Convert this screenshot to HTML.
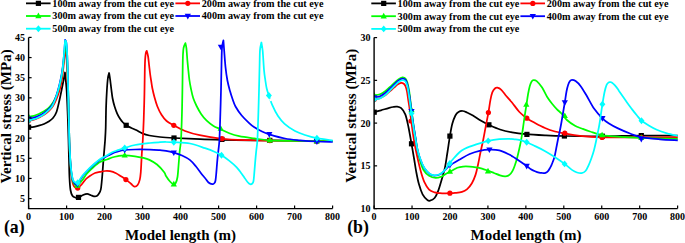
<!DOCTYPE html>
<html><head><meta charset="utf-8"><style>
html,body{margin:0;padding:0;background:#fff;}
body{width:685px;height:243px;overflow:hidden;}
svg{display:block;}
text{font-family:"Liberation Serif",serif;font-weight:bold;fill:#000;}
.tk{font-size:10px;}
.lg{font-size:10.2px;}
.at{font-size:15px;}
.pl{font-size:17.8px;}
</style></head><body>
<svg width="685" height="243" viewBox="0 0 685 243">
<defs><clipPath id="ca"><rect x="28.60" y="30" width="320" height="178.5"/></clipPath><clipPath id="cb"><rect x="374.10" y="30" width="320" height="178.5"/></clipPath></defs>
<g clip-path="url(#ca)">
<path d="M28.60 127.20 C29.50 127.13 32.30 127.05 34.00 126.80 C35.70 126.55 37.13 126.17 38.80 125.70 C40.47 125.23 42.35 124.70 44.00 124.00 C45.65 123.30 47.20 122.50 48.70 121.50 C50.20 120.50 51.70 119.58 53.00 118.00 C54.30 116.42 55.42 115.00 56.50 112.00 C57.58 109.00 58.58 104.00 59.50 100.00 C60.42 96.00 61.28 91.50 62.00 88.00 C62.72 84.50 63.30 81.58 63.80 79.00 C64.30 76.42 64.80 73.58 65.00 72.50 C65.27 75.42 66.15 82.92 66.60 90.00 C67.05 97.08 67.38 106.67 67.70 115.00 C68.02 123.33 68.28 132.50 68.50 140.00 C68.72 147.50 68.83 153.67 69.00 160.00 C69.17 166.33 69.25 173.00 69.50 178.00 C69.75 183.00 70.02 187.03 70.50 190.00 C70.98 192.97 71.57 194.53 72.40 195.80 C73.23 197.07 74.48 197.30 75.50 197.60 C76.52 197.90 77.33 197.98 78.50 197.60 C79.67 197.22 81.07 195.93 82.50 195.30 C83.93 194.67 85.68 193.80 87.10 193.80 C88.52 193.80 89.85 194.88 91.00 195.30 C92.15 195.72 93.03 196.18 94.00 196.30 C94.97 196.42 95.97 196.47 96.80 196.00 C97.63 195.53 98.33 194.60 99.00 193.50 C99.67 192.40 100.32 191.65 100.80 189.40 C101.28 187.15 101.58 183.23 101.90 180.00 C102.22 176.77 102.42 173.67 102.70 170.00 C102.98 166.33 103.30 161.77 103.60 158.00 C103.90 154.23 104.25 150.40 104.50 147.40 C104.75 144.40 104.90 143.23 105.10 140.00 C105.30 136.77 105.53 133.50 105.70 128.00 C105.87 122.50 105.90 113.33 106.10 107.00 C106.30 100.67 106.60 94.83 106.90 90.00 C107.20 85.17 107.53 80.83 107.90 78.00 C108.27 75.17 108.90 73.83 109.10 73.00 C109.28 74.17 109.83 77.33 110.20 80.00 C110.57 82.67 110.90 85.92 111.30 89.00 C111.70 92.08 112.05 95.58 112.60 98.50 C113.15 101.42 113.82 103.95 114.60 106.50 C115.38 109.05 116.33 111.67 117.30 113.80 C118.27 115.93 119.45 117.85 120.40 119.30 C121.35 120.75 122.03 121.50 123.00 122.50 C123.97 123.50 124.87 124.42 126.20 125.30 C127.53 126.18 129.35 127.02 131.00 127.80 C132.65 128.58 134.13 129.03 136.10 130.00 C138.07 130.97 140.58 132.68 142.80 133.60 C145.02 134.52 146.53 134.93 149.40 135.50 C152.27 136.07 155.90 136.58 160.00 137.00 C164.10 137.42 167.33 137.63 174.00 138.00 C180.67 138.37 192.02 138.90 200.00 139.20 C207.98 139.50 213.57 139.62 221.90 139.80 C230.23 139.98 242.02 140.20 250.00 140.30 C257.98 140.40 261.47 140.32 269.80 140.40 C278.13 140.48 289.50 140.70 300.00 140.80 C310.50 140.90 327.33 140.97 332.80 141.00" fill="none" stroke="#000000" stroke-width="1.75" stroke-linejoin="round"/>
<rect x="26.00" y="124.60" width="5.20" height="5.20" fill="#000000"/>
<rect x="75.90" y="194.80" width="5.20" height="5.20" fill="#000000"/>
<rect x="123.60" y="122.70" width="5.20" height="5.20" fill="#000000"/>
<rect x="171.40" y="135.40" width="5.20" height="5.20" fill="#000000"/>
<rect x="219.30" y="136.80" width="5.20" height="5.20" fill="#000000"/>
<rect x="267.20" y="137.80" width="5.20" height="5.20" fill="#000000"/>
<rect x="314.10" y="138.30" width="5.20" height="5.20" fill="#000000"/>
<path d="M28.60 120.60 C29.50 120.43 32.30 120.10 34.00 119.60 C35.70 119.10 37.13 118.40 38.80 117.60 C40.47 116.80 42.35 115.87 44.00 114.80 C45.65 113.73 47.20 112.67 48.70 111.20 C50.20 109.73 51.70 108.03 53.00 106.00 C54.30 103.97 55.35 101.83 56.50 99.00 C57.65 96.17 58.98 92.33 59.90 89.00 C60.82 85.67 61.33 83.33 62.00 79.00 C62.67 74.67 63.37 68.07 63.90 63.00 C64.43 57.93 64.98 51.00 65.20 48.60 C65.38 49.67 65.98 51.43 66.30 55.00 C66.62 58.57 66.87 65.00 67.10 70.00 C67.33 75.00 67.50 80.00 67.70 85.00 C67.90 90.00 68.12 93.83 68.30 100.00 C68.48 106.17 68.63 115.00 68.80 122.00 C68.97 129.00 69.10 136.00 69.30 142.00 C69.50 148.00 69.73 153.33 70.00 158.00 C70.27 162.67 70.58 166.50 70.90 170.00 C71.22 173.50 71.50 176.50 71.90 179.00 C72.30 181.50 72.75 183.57 73.30 185.00 C73.85 186.43 74.47 187.08 75.20 187.60 C75.93 188.12 76.57 188.70 77.70 188.10 C78.83 187.50 80.62 185.52 82.00 184.00 C83.38 182.48 84.70 180.33 86.00 179.00 C87.30 177.67 88.30 177.00 89.80 176.00 C91.30 175.00 93.30 173.68 95.00 173.00 C96.70 172.32 98.33 172.23 100.00 171.90 C101.67 171.57 103.33 171.12 105.00 171.00 C106.67 170.88 108.17 170.83 110.00 171.20 C111.83 171.57 114.17 172.35 116.00 173.20 C117.83 174.05 119.35 175.23 121.00 176.30 C122.65 177.37 124.23 178.35 125.90 179.60 C127.57 180.85 129.57 182.63 131.00 183.80 C132.43 184.97 133.40 186.40 134.50 186.60 C135.60 186.80 136.72 186.17 137.60 185.00 C138.48 183.83 139.27 181.77 139.80 179.60 C140.33 177.43 140.53 175.03 140.80 172.00 C141.07 168.97 141.20 164.95 141.40 161.40 C141.60 157.85 141.77 154.27 142.00 150.70 C142.23 147.13 142.52 145.12 142.80 140.00 C143.08 134.88 143.43 127.50 143.70 120.00 C143.97 112.50 144.22 103.33 144.40 95.00 C144.58 86.67 144.68 75.83 144.80 70.00 C144.92 64.17 144.93 62.80 145.10 60.00 C145.27 57.20 145.53 54.73 145.80 53.20 C146.07 51.67 146.55 51.20 146.70 50.80 C146.93 51.75 147.68 53.97 148.10 56.50 C148.52 59.03 148.85 63.00 149.20 66.00 C149.55 69.00 149.87 72.00 150.20 74.50 C150.53 77.00 150.83 78.67 151.20 81.00 C151.57 83.33 151.88 85.92 152.40 88.50 C152.92 91.08 153.48 93.55 154.30 96.50 C155.12 99.45 156.10 103.15 157.30 106.20 C158.50 109.25 159.95 112.33 161.50 114.80 C163.05 117.27 164.55 119.25 166.60 121.00 C168.65 122.75 170.73 123.63 173.80 125.30 C176.87 126.97 180.68 129.35 185.00 131.00 C189.32 132.65 193.55 133.90 199.70 135.20 C205.85 136.50 213.52 137.97 221.90 138.80 C230.28 139.63 242.02 139.90 250.00 140.20 C257.98 140.50 261.47 140.48 269.80 140.60 C278.13 140.72 289.50 140.83 300.00 140.90 C310.50 140.97 327.33 140.98 332.80 141.00" fill="none" stroke="#ff0000" stroke-width="1.75" stroke-linejoin="round"/>
<circle cx="28.60" cy="120.60" r="2.60" fill="#ff0000"/>
<circle cx="77.70" cy="188.10" r="2.60" fill="#ff0000"/>
<circle cx="125.90" cy="179.60" r="2.60" fill="#ff0000"/>
<circle cx="173.80" cy="125.30" r="2.60" fill="#ff0000"/>
<circle cx="221.90" cy="138.70" r="2.60" fill="#ff0000"/>
<circle cx="269.80" cy="140.60" r="2.60" fill="#ff0000"/>
<circle cx="316.70" cy="141.00" r="2.60" fill="#ff0000"/>
<path d="M28.60 116.70 C29.50 116.55 32.30 116.25 34.00 115.80 C35.70 115.35 37.13 114.75 38.80 114.00 C40.47 113.25 42.35 112.33 44.00 111.30 C45.65 110.27 47.20 109.27 48.70 107.80 C50.20 106.33 51.70 104.55 53.00 102.50 C54.30 100.45 55.37 98.42 56.50 95.50 C57.63 92.58 58.82 89.08 59.80 85.00 C60.78 80.92 61.68 75.67 62.40 71.00 C63.12 66.33 63.63 61.08 64.10 57.00 C64.57 52.92 65.02 48.25 65.20 46.50 C65.40 47.08 66.07 47.75 66.40 50.00 C66.73 52.25 66.97 55.33 67.20 60.00 C67.43 64.67 67.60 71.33 67.80 78.00 C68.00 84.67 68.22 92.67 68.40 100.00 C68.58 107.33 68.73 115.00 68.90 122.00 C69.07 129.00 69.20 136.00 69.40 142.00 C69.60 148.00 69.85 153.50 70.10 158.00 C70.35 162.50 70.60 165.83 70.90 169.00 C71.20 172.17 71.52 174.75 71.90 177.00 C72.28 179.25 72.65 181.17 73.20 182.50 C73.75 183.83 74.50 184.50 75.20 185.00 C75.90 185.50 76.27 186.25 77.40 185.50 C78.53 184.75 80.40 182.50 82.00 180.50 C83.60 178.50 85.17 175.67 87.00 173.50 C88.83 171.33 90.83 169.42 93.00 167.50 C95.17 165.58 97.67 163.33 100.00 162.00 C102.33 160.67 105.00 160.25 107.00 159.50 C109.00 158.75 110.17 158.07 112.00 157.50 C113.83 156.93 115.88 156.45 118.00 156.10 C120.12 155.75 121.87 155.37 124.70 155.40 C127.53 155.43 131.95 155.90 135.00 156.30 C138.05 156.70 140.60 157.20 143.00 157.80 C145.40 158.40 147.07 158.78 149.40 159.90 C151.73 161.02 154.53 162.45 157.00 164.50 C159.47 166.55 162.70 170.28 164.20 172.20 C165.70 174.12 165.03 174.45 166.00 176.00 C166.97 177.55 168.75 180.13 170.00 181.50 C171.25 182.87 172.55 183.95 173.50 184.20 C174.45 184.45 175.03 184.20 175.70 183.00 C176.37 181.80 177.02 180.05 177.50 177.00 C177.98 173.95 178.22 169.15 178.60 164.70 C178.98 160.25 179.40 154.42 179.80 150.30 C180.20 146.18 180.65 145.88 181.00 140.00 C181.35 134.12 181.67 123.33 181.90 115.00 C182.13 106.67 182.25 99.17 182.40 90.00 C182.55 80.83 182.65 66.67 182.80 60.00 C182.95 53.33 183.08 52.33 183.30 50.00 C183.52 47.67 183.75 47.15 184.10 46.00 C184.45 44.85 185.18 43.58 185.40 43.10 C185.57 43.95 186.07 45.28 186.40 48.20 C186.73 51.12 187.07 56.80 187.40 60.60 C187.73 64.40 188.07 67.77 188.40 71.00 C188.73 74.23 188.98 77.08 189.40 80.00 C189.82 82.92 190.27 85.48 190.90 88.50 C191.53 91.52 192.25 95.18 193.20 98.10 C194.15 101.02 195.28 103.37 196.60 106.00 C197.92 108.63 199.42 111.45 201.10 113.90 C202.78 116.35 204.63 118.68 206.70 120.70 C208.77 122.72 211.28 124.62 213.50 126.00 C215.72 127.38 217.37 127.78 220.00 129.00 C222.63 130.22 226.10 132.10 229.30 133.30 C232.50 134.50 235.08 135.35 239.20 136.20 C243.32 137.05 248.90 137.72 254.00 138.40 C259.10 139.08 262.13 139.87 269.80 140.30 C277.47 140.73 289.50 140.85 300.00 141.00 C310.50 141.15 327.33 141.17 332.80 141.20" fill="none" stroke="#00ff00" stroke-width="1.75" stroke-linejoin="round"/>
<path d="M28.60 113.32L31.72 118.91L25.48 118.91Z" fill="#00ff00"/>
<path d="M77.40 182.12L80.52 187.71L74.28 187.71Z" fill="#00ff00"/>
<path d="M124.70 152.02L127.82 157.61L121.58 157.61Z" fill="#00ff00"/>
<path d="M173.80 180.82L176.92 186.41L170.68 186.41Z" fill="#00ff00"/>
<path d="M220.70 125.22L223.82 130.81L217.58 130.81Z" fill="#00ff00"/>
<path d="M269.80 136.82L272.92 142.41L266.68 142.41Z" fill="#00ff00"/>
<path d="M316.70 137.72L319.82 143.31L313.58 143.31Z" fill="#00ff00"/>
<path d="M28.60 118.80 C29.50 118.62 32.30 118.20 34.00 117.70 C35.70 117.20 37.13 116.60 38.80 115.80 C40.47 115.00 42.35 114.00 44.00 112.90 C45.65 111.80 47.33 110.52 48.70 109.20 C50.07 107.88 51.10 106.78 52.20 105.00 C53.30 103.22 54.35 100.92 55.30 98.50 C56.25 96.08 57.05 93.50 57.90 90.50 C58.75 87.50 59.65 84.00 60.40 80.50 C61.15 77.00 61.78 73.92 62.40 69.50 C63.02 65.08 63.65 58.95 64.10 54.00 C64.55 49.05 64.93 42.17 65.10 39.80 C65.30 40.25 65.95 39.97 66.30 42.50 C66.65 45.03 66.95 49.58 67.20 55.00 C67.45 60.42 67.60 67.50 67.80 75.00 C68.00 82.50 68.22 92.17 68.40 100.00 C68.58 107.83 68.73 115.00 68.90 122.00 C69.07 129.00 69.20 136.17 69.40 142.00 C69.60 147.83 69.85 152.67 70.10 157.00 C70.35 161.33 70.60 164.83 70.90 168.00 C71.20 171.17 71.53 173.83 71.90 176.00 C72.27 178.17 72.57 179.72 73.10 181.00 C73.63 182.28 74.38 183.17 75.10 183.70 C75.82 184.23 76.25 185.32 77.40 184.20 C78.55 183.08 80.38 179.20 82.00 177.00 C83.62 174.80 85.27 172.92 87.10 171.00 C88.93 169.08 90.85 167.37 93.00 165.50 C95.15 163.63 98.00 161.18 100.00 159.80 C102.00 158.42 103.00 158.23 105.00 157.20 C107.00 156.17 109.95 154.52 112.00 153.60 C114.05 152.68 115.18 152.30 117.30 151.70 C119.42 151.10 121.75 150.37 124.70 150.00 C127.65 149.63 130.78 149.57 135.00 149.50 C139.22 149.43 145.83 149.48 150.00 149.60 C154.17 149.72 157.33 150.00 160.00 150.20 C162.67 150.40 163.70 150.40 166.00 150.80 C168.30 151.20 171.13 151.82 173.80 152.60 C176.47 153.38 179.33 154.28 182.00 155.50 C184.67 156.72 187.47 158.07 189.80 159.90 C192.13 161.73 193.93 164.03 196.00 166.50 C198.07 168.97 200.70 172.78 202.20 174.70 C203.70 176.62 203.95 176.70 205.00 178.00 C206.05 179.30 207.30 181.47 208.50 182.50 C209.70 183.53 211.20 184.12 212.20 184.20 C213.20 184.28 213.95 183.62 214.50 183.00 C215.05 182.38 215.20 182.18 215.50 180.50 C215.80 178.82 216.00 176.22 216.30 172.90 C216.60 169.58 216.95 164.37 217.30 160.60 C217.65 156.83 218.05 153.73 218.40 150.30 C218.75 146.87 219.08 145.88 219.40 140.00 C219.72 134.12 220.03 123.33 220.30 115.00 C220.57 106.67 220.80 98.33 221.00 90.00 C221.20 81.67 221.33 72.00 221.50 65.00 C221.67 58.00 221.68 52.12 222.00 48.00 C222.32 43.88 223.17 41.58 223.40 40.30 C223.53 42.08 223.85 46.53 224.20 51.00 C224.55 55.47 224.97 62.18 225.50 67.10 C226.03 72.02 226.65 76.50 227.40 80.50 C228.15 84.50 229.12 87.93 230.00 91.10 C230.88 94.27 231.78 96.93 232.70 99.50 C233.62 102.07 234.00 103.83 235.50 106.50 C237.00 109.17 239.43 112.75 241.70 115.50 C243.97 118.25 247.05 121.08 249.10 123.00 C251.15 124.92 251.85 125.58 254.00 127.00 C256.15 128.42 259.45 130.28 262.00 131.50 C264.55 132.72 265.47 133.13 269.30 134.30 C273.13 135.47 279.88 137.50 285.00 138.50 C290.12 139.50 294.72 139.80 300.00 140.30 C305.28 140.80 311.23 141.22 316.70 141.50 C322.17 141.78 330.12 141.92 332.80 142.00" fill="none" stroke="#0000ff" stroke-width="1.75" stroke-linejoin="round"/>
<path d="M28.60 122.18L31.72 116.59L25.48 116.59Z" fill="#0000ff"/>
<path d="M77.40 187.58L80.52 181.99L74.28 181.99Z" fill="#0000ff"/>
<path d="M124.70 153.38L127.82 147.79L121.58 147.79Z" fill="#0000ff"/>
<path d="M173.80 155.98L176.92 150.39L170.68 150.39Z" fill="#0000ff"/>
<path d="M220.90 50.28L224.02 44.69L217.78 44.69Z" fill="#0000ff"/>
<path d="M269.30 137.68L272.42 132.09L266.18 132.09Z" fill="#0000ff"/>
<path d="M316.90 144.88L320.02 139.29L313.78 139.29Z" fill="#0000ff"/>
<path d="M28.60 120.40 C29.50 120.20 32.30 119.73 34.00 119.20 C35.70 118.67 37.13 118.03 38.80 117.20 C40.47 116.37 42.35 115.37 44.00 114.20 C45.65 113.03 47.32 111.57 48.70 110.20 C50.08 108.83 51.18 107.87 52.30 106.00 C53.42 104.13 54.45 101.50 55.40 99.00 C56.35 96.50 57.15 94.00 58.00 91.00 C58.85 88.00 59.75 84.50 60.50 81.00 C61.25 77.50 61.90 74.67 62.50 70.00 C63.10 65.33 63.67 57.92 64.10 53.00 C64.53 48.08 64.93 42.58 65.10 40.50 C65.30 40.83 65.95 40.08 66.30 42.50 C66.65 44.92 66.95 49.58 67.20 55.00 C67.45 60.42 67.60 67.50 67.80 75.00 C68.00 82.50 68.22 92.17 68.40 100.00 C68.58 107.83 68.73 115.00 68.90 122.00 C69.07 129.00 69.20 136.25 69.40 142.00 C69.60 147.75 69.85 152.25 70.10 156.50 C70.35 160.75 70.60 164.42 70.90 167.50 C71.20 170.58 71.55 172.95 71.90 175.00 C72.25 177.05 72.48 178.58 73.00 179.80 C73.52 181.02 74.22 181.80 75.00 182.30 C75.78 182.80 76.53 183.80 77.70 182.80 C78.87 181.80 80.43 178.33 82.00 176.30 C83.57 174.27 85.27 172.48 87.10 170.60 C88.93 168.72 90.85 166.88 93.00 165.00 C95.15 163.12 98.00 160.70 100.00 159.30 C102.00 157.90 102.95 157.77 105.00 156.60 C107.05 155.43 110.13 153.37 112.30 152.30 C114.47 151.23 115.93 150.92 118.00 150.20 C120.07 149.48 121.87 148.87 124.70 148.00 C127.53 147.13 130.78 145.83 135.00 145.00 C139.22 144.17 145.83 143.47 150.00 143.00 C154.17 142.53 157.33 142.37 160.00 142.20 C162.67 142.03 163.70 141.98 166.00 142.00 C168.30 142.02 169.80 142.05 173.80 142.30 C177.80 142.55 184.80 142.52 190.00 143.50 C195.20 144.48 200.83 146.78 205.00 148.20 C209.17 149.62 212.25 150.83 215.00 152.00 C217.75 153.17 219.15 153.77 221.50 155.20 C223.85 156.63 226.57 158.58 229.10 160.60 C231.63 162.62 234.63 165.15 236.70 167.30 C238.77 169.45 240.28 171.88 241.50 173.50 C242.72 175.12 243.00 175.58 244.00 177.00 C245.00 178.42 246.47 180.80 247.50 182.00 C248.53 183.20 249.40 183.95 250.20 184.20 C251.00 184.45 251.75 184.03 252.30 183.50 C252.85 182.97 253.17 182.77 253.50 181.00 C253.83 179.23 254.00 176.30 254.30 172.90 C254.60 169.50 254.97 164.37 255.30 160.60 C255.63 156.83 255.95 153.73 256.30 150.30 C256.65 146.87 257.07 145.88 257.40 140.00 C257.73 134.12 258.03 123.33 258.30 115.00 C258.57 106.67 258.78 98.33 259.00 90.00 C259.22 81.67 259.43 71.67 259.60 65.00 C259.77 58.33 259.70 53.75 260.00 50.00 C260.30 46.25 261.17 43.75 261.40 42.50 C261.62 43.92 262.27 46.45 262.70 51.00 C263.13 55.55 263.57 64.97 264.00 69.80 C264.43 74.63 264.85 76.88 265.30 80.00 C265.75 83.12 266.10 85.92 266.70 88.50 C267.30 91.08 267.98 92.78 268.90 95.50 C269.82 98.22 270.68 101.38 272.20 104.80 C273.72 108.22 275.93 112.83 278.00 116.00 C280.07 119.17 281.77 121.30 284.60 123.80 C287.43 126.30 291.60 129.13 295.00 131.00 C298.40 132.87 301.38 133.80 305.00 135.00 C308.62 136.20 312.07 137.27 316.70 138.20 C321.33 139.13 330.12 140.20 332.80 140.60" fill="none" stroke="#00ffff" stroke-width="1.75" stroke-linejoin="round"/>
<path d="M28.60 116.97L31.59 120.40L28.60 123.83L25.61 120.40Z" fill="#00ffff"/>
<path d="M77.70 179.37L80.69 182.80L77.70 186.23L74.71 182.80Z" fill="#00ffff"/>
<path d="M124.70 144.57L127.69 148.00L124.70 151.43L121.71 148.00Z" fill="#00ffff"/>
<path d="M173.80 138.87L176.79 142.30L173.80 145.73L170.81 142.30Z" fill="#00ffff"/>
<path d="M221.50 151.77L224.49 155.20L221.50 158.63L218.51 155.20Z" fill="#00ffff"/>
<path d="M268.90 92.07L271.89 95.50L268.90 98.93L265.91 95.50Z" fill="#00ffff"/>
<path d="M316.90 134.77L319.89 138.20L316.90 141.63L313.91 138.20Z" fill="#00ffff"/>
</g>
<g clip-path="url(#cb)">
<path d="M374.20 112.20 C375.33 111.88 378.60 110.98 381.00 110.30 C383.40 109.62 386.60 108.65 388.60 108.10 C390.60 107.55 391.63 107.25 393.00 107.00 C394.37 106.75 395.43 106.40 396.80 106.60 C398.17 106.80 399.78 106.90 401.20 108.20 C402.62 109.50 404.10 111.32 405.30 114.40 C406.50 117.48 407.37 121.80 408.40 126.70 C409.43 131.60 410.52 138.25 411.50 143.80 C412.48 149.35 413.53 155.45 414.30 160.00 C415.07 164.55 415.33 167.08 416.10 171.10 C416.87 175.12 417.82 180.23 418.90 184.10 C419.98 187.97 421.22 191.68 422.60 194.30 C423.98 196.92 425.97 198.73 427.20 199.80 C428.43 200.87 428.77 201.00 430.00 200.70 C431.23 200.40 433.22 199.68 434.60 198.00 C435.98 196.32 437.07 193.85 438.30 190.60 C439.53 187.35 440.88 182.37 442.00 178.50 C443.12 174.63 444.08 171.82 445.00 167.40 C445.92 162.98 446.68 157.22 447.50 152.00 C448.32 146.78 449.10 140.80 449.90 136.10 C450.70 131.40 451.38 127.23 452.30 123.80 C453.22 120.37 454.37 117.47 455.40 115.50 C456.43 113.53 457.30 112.75 458.50 112.00 C459.70 111.25 461.18 110.92 462.60 111.00 C464.02 111.08 465.28 111.75 467.00 112.50 C468.72 113.25 470.55 114.13 472.90 115.50 C475.25 116.87 478.43 119.15 481.10 120.70 C483.77 122.25 485.75 123.33 488.90 124.80 C492.05 126.27 496.15 128.25 500.00 129.50 C503.85 130.75 507.72 131.53 512.00 132.30 C516.28 133.07 520.20 133.60 525.70 134.10 C531.20 134.60 538.55 134.98 545.00 135.30 C551.45 135.62 555.40 135.83 564.40 136.00 C573.40 136.17 586.28 136.35 599.00 136.30 C611.72 136.25 627.57 135.83 640.70 135.70 C653.83 135.57 671.62 135.53 677.80 135.50" fill="none" stroke="#000000" stroke-width="1.75" stroke-linejoin="round"/>
<rect x="371.60" y="109.60" width="5.20" height="5.20" fill="#000000"/>
<rect x="408.90" y="141.20" width="5.20" height="5.20" fill="#000000"/>
<rect x="447.30" y="133.50" width="5.20" height="5.20" fill="#000000"/>
<rect x="486.30" y="122.20" width="5.20" height="5.20" fill="#000000"/>
<rect x="524.30" y="131.80" width="5.20" height="5.20" fill="#000000"/>
<rect x="561.80" y="133.40" width="5.20" height="5.20" fill="#000000"/>
<rect x="599.80" y="133.60" width="5.20" height="5.20" fill="#000000"/>
<rect x="638.70" y="133.00" width="5.20" height="5.20" fill="#000000"/>
<path d="M374.20 99.40 C375.17 99.18 378.17 98.80 380.00 98.10 C381.83 97.40 383.87 96.07 385.20 95.20 C386.53 94.33 386.97 93.77 388.00 92.90 C389.03 92.03 390.30 90.95 391.40 90.00 C392.50 89.05 393.58 88.12 394.60 87.20 C395.62 86.28 396.42 85.23 397.50 84.50 C398.58 83.77 400.05 82.92 401.10 82.80 C402.15 82.68 403.05 83.22 403.80 83.80 C404.55 84.38 405.07 85.02 405.60 86.30 C406.13 87.58 406.58 89.38 407.00 91.50 C407.42 93.62 407.68 96.25 408.10 99.00 C408.52 101.75 408.98 104.40 409.50 108.00 C410.02 111.60 410.57 115.93 411.20 120.60 C411.83 125.27 412.62 131.52 413.30 136.00 C413.98 140.48 414.52 143.50 415.30 147.50 C416.08 151.50 417.10 156.07 418.00 160.00 C418.90 163.93 419.63 167.40 420.70 171.10 C421.77 174.80 423.00 179.12 424.40 182.20 C425.80 185.28 427.40 187.90 429.10 189.60 C430.80 191.30 432.78 191.82 434.60 192.40 C436.42 192.98 438.27 192.95 440.00 193.10 C441.73 193.25 443.35 193.28 445.00 193.30 C446.65 193.32 448.23 193.27 449.90 193.20 C451.57 193.13 452.98 193.12 455.00 192.90 C457.02 192.68 460.02 192.48 462.00 191.90 C463.98 191.32 465.25 190.85 466.90 189.40 C468.55 187.95 470.45 185.67 471.90 183.20 C473.35 180.73 474.58 177.68 475.60 174.60 C476.62 171.52 477.18 168.42 478.00 164.70 C478.82 160.98 479.63 156.42 480.50 152.30 C481.37 148.18 482.32 144.37 483.20 140.00 C484.08 135.63 484.93 130.67 485.80 126.10 C486.67 121.53 487.63 116.93 488.40 112.60 C489.17 108.27 489.75 103.47 490.40 100.10 C491.05 96.73 491.55 94.33 492.30 92.40 C493.05 90.47 494.05 89.28 494.90 88.50 C495.75 87.72 496.33 87.48 497.40 87.70 C498.47 87.92 499.78 88.37 501.30 89.80 C502.82 91.23 504.72 94.18 506.50 96.30 C508.28 98.42 509.85 99.88 512.00 102.50 C514.15 105.12 516.93 109.38 519.40 112.00 C521.87 114.62 524.20 116.37 526.80 118.20 C529.40 120.03 531.97 121.37 535.00 123.00 C538.03 124.63 541.67 126.58 545.00 128.00 C548.33 129.42 551.70 130.58 555.00 131.50 C558.30 132.42 560.63 132.78 564.80 133.50 C568.97 134.22 573.78 135.17 580.00 135.80 C586.22 136.43 592.10 137.03 602.10 137.30 C612.10 137.57 627.38 137.42 640.00 137.40 C652.62 137.38 671.50 137.23 677.80 137.20" fill="none" stroke="#ff0000" stroke-width="1.75" stroke-linejoin="round"/>
<circle cx="374.20" cy="99.60" r="2.60" fill="#ff0000"/>
<circle cx="411.00" cy="121.00" r="2.60" fill="#ff0000"/>
<circle cx="449.90" cy="193.20" r="2.60" fill="#ff0000"/>
<circle cx="488.40" cy="112.60" r="2.60" fill="#ff0000"/>
<circle cx="526.80" cy="118.20" r="2.60" fill="#ff0000"/>
<circle cx="564.80" cy="133.20" r="2.60" fill="#ff0000"/>
<circle cx="602.10" cy="137.50" r="2.60" fill="#ff0000"/>
<circle cx="641.30" cy="137.40" r="2.60" fill="#ff0000"/>
<path d="M374.20 95.40 C375.17 95.20 378.17 94.90 380.00 94.20 C381.83 93.50 383.25 92.68 385.20 91.20 C387.15 89.72 389.52 87.27 391.70 85.30 C393.88 83.33 396.50 80.72 398.30 79.40 C400.10 78.08 401.30 77.53 402.50 77.40 C403.70 77.27 404.67 77.67 405.50 78.60 C406.33 79.53 406.87 80.77 407.50 83.00 C408.13 85.23 408.67 87.83 409.30 92.00 C409.93 96.17 410.63 102.67 411.30 108.00 C411.97 113.33 412.60 119.00 413.30 124.00 C414.00 129.00 414.80 133.67 415.50 138.00 C416.20 142.33 416.78 146.33 417.50 150.00 C418.22 153.67 418.80 156.67 419.80 160.00 C420.80 163.33 421.95 167.37 423.50 170.00 C425.05 172.63 427.08 174.48 429.10 175.80 C431.12 177.12 433.45 177.80 435.60 177.90 C437.75 178.00 440.43 176.98 442.00 176.40 C443.57 175.82 443.37 175.33 445.00 174.40 C446.63 173.47 449.75 171.90 451.80 170.80 C453.85 169.70 455.43 168.50 457.30 167.80 C459.17 167.10 460.93 166.80 463.00 166.60 C465.07 166.40 467.53 166.48 469.70 166.60 C471.87 166.72 473.95 166.97 476.00 167.30 C478.05 167.63 479.97 168.02 482.00 168.60 C484.03 169.18 486.13 170.03 488.20 170.80 C490.27 171.57 492.43 172.45 494.40 173.20 C496.37 173.95 498.23 174.78 500.00 175.30 C501.77 175.82 503.62 176.25 505.00 176.30 C506.38 176.35 507.30 176.10 508.30 175.60 C509.30 175.10 510.17 174.35 511.00 173.30 C511.83 172.25 512.60 170.80 513.30 169.30 C514.00 167.80 514.58 166.10 515.20 164.30 C515.82 162.50 516.33 161.00 517.00 158.50 C517.67 156.00 518.50 152.43 519.20 149.30 C519.90 146.17 520.62 142.92 521.20 139.70 C521.78 136.48 522.22 133.28 522.70 130.00 C523.18 126.72 523.67 123.00 524.10 120.00 C524.53 117.00 524.90 114.57 525.30 112.00 C525.70 109.43 526.05 107.52 526.50 104.60 C526.95 101.68 527.45 97.60 528.00 94.50 C528.55 91.40 529.22 88.13 529.80 86.00 C530.38 83.87 530.88 82.67 531.50 81.70 C532.12 80.73 532.63 80.28 533.50 80.20 C534.37 80.12 535.27 79.97 536.70 81.20 C538.13 82.43 540.35 84.97 542.10 87.60 C543.85 90.23 545.53 94.30 547.20 97.00 C548.87 99.70 550.47 101.73 552.10 103.80 C553.73 105.87 555.43 107.78 557.00 109.40 C558.57 111.02 559.85 111.73 561.50 113.50 C563.15 115.27 564.65 117.95 566.90 120.00 C569.15 122.05 572.53 124.38 575.00 125.80 C577.47 127.22 579.20 127.55 581.70 128.50 C584.20 129.45 586.60 130.40 590.00 131.50 C593.40 132.60 597.10 134.22 602.10 135.10 C607.10 135.98 613.68 136.35 620.00 136.80 C626.32 137.25 630.37 137.47 640.00 137.80 C649.63 138.13 671.50 138.63 677.80 138.80" fill="none" stroke="#00ff00" stroke-width="1.75" stroke-linejoin="round"/>
<path d="M374.20 92.02L377.32 97.61L371.08 97.61Z" fill="#00ff00"/>
<path d="M411.50 106.62L414.62 112.21L408.38 112.21Z" fill="#00ff00"/>
<path d="M449.90 168.12L453.02 173.71L446.78 173.71Z" fill="#00ff00"/>
<path d="M488.00 167.82L491.12 173.41L484.88 173.41Z" fill="#00ff00"/>
<path d="M526.30 101.22L529.42 106.81L523.18 106.81Z" fill="#00ff00"/>
<path d="M564.80 112.42L567.92 118.01L561.68 118.01Z" fill="#00ff00"/>
<path d="M602.10 131.72L605.22 137.31L598.98 137.31Z" fill="#00ff00"/>
<path d="M641.30 134.42L644.42 140.01L638.18 140.01Z" fill="#00ff00"/>
<path d="M374.20 97.40 C375.17 97.20 378.17 96.93 380.00 96.20 C381.83 95.47 383.25 94.57 385.20 93.00 C387.15 91.43 389.52 88.87 391.70 86.80 C393.88 84.73 396.50 81.97 398.30 80.60 C400.10 79.23 401.30 78.73 402.50 78.60 C403.70 78.47 404.67 78.77 405.50 79.80 C406.33 80.83 406.83 82.10 407.50 84.80 C408.17 87.50 408.83 91.58 409.50 96.00 C410.17 100.42 410.87 106.63 411.50 111.30 C412.13 115.97 412.67 119.80 413.30 124.00 C413.93 128.20 414.58 132.12 415.30 136.50 C416.02 140.88 416.70 146.33 417.60 150.30 C418.50 154.27 419.57 157.30 420.70 160.30 C421.83 163.30 422.85 165.97 424.40 168.30 C425.95 170.63 428.30 173.08 430.00 174.30 C431.70 175.52 432.90 175.60 434.60 175.60 C436.30 175.60 438.47 175.20 440.20 174.30 C441.93 173.40 443.38 171.68 445.00 170.20 C446.62 168.72 447.43 167.20 449.90 165.40 C452.37 163.60 456.50 161.30 459.80 159.40 C463.10 157.50 466.40 155.43 469.70 154.00 C473.00 152.57 476.32 151.53 479.60 150.80 C482.88 150.07 486.12 149.68 489.40 149.60 C492.68 149.52 496.00 149.48 499.30 150.30 C502.60 151.12 506.58 153.22 509.20 154.50 C511.82 155.78 513.35 156.97 515.00 158.00 C516.65 159.03 517.15 159.37 519.10 160.70 C521.05 162.03 524.80 164.62 526.70 166.00 C528.60 167.38 529.12 168.12 530.50 169.00 C531.88 169.88 533.58 170.68 535.00 171.30 C536.42 171.92 537.77 172.42 539.00 172.70 C540.23 172.98 541.32 172.98 542.40 173.00 C543.48 173.02 544.57 173.12 545.50 172.80 C546.43 172.48 547.25 171.90 548.00 171.10 C548.75 170.30 549.38 169.08 550.00 168.00 C550.62 166.92 550.97 166.40 551.70 164.60 C552.43 162.80 553.63 159.97 554.40 157.20 C555.17 154.43 555.68 151.08 556.30 148.00 C556.92 144.92 557.52 141.53 558.10 138.70 C558.68 135.87 559.23 133.78 559.80 131.00 C560.37 128.22 560.95 125.08 561.50 122.00 C562.05 118.92 562.55 115.77 563.10 112.50 C563.65 109.23 564.23 105.90 564.80 102.40 C565.37 98.90 565.95 94.40 566.50 91.50 C567.05 88.60 567.52 86.75 568.10 85.00 C568.68 83.25 569.35 81.87 570.00 81.00 C570.65 80.13 571.07 79.80 572.00 79.80 C572.93 79.80 574.18 79.98 575.60 81.00 C577.02 82.02 578.65 83.43 580.50 85.90 C582.35 88.37 584.42 91.98 586.70 95.80 C588.98 99.62 591.58 105.05 594.20 108.80 C596.82 112.55 600.00 115.90 602.40 118.30 C604.80 120.70 606.00 121.52 608.60 123.20 C611.20 124.88 614.43 126.68 618.00 128.40 C621.57 130.12 626.17 132.03 630.00 133.50 C633.83 134.97 636.00 136.23 641.00 137.20 C646.00 138.17 653.87 138.78 660.00 139.30 C666.13 139.82 674.83 140.13 677.80 140.30" fill="none" stroke="#0000ff" stroke-width="1.75" stroke-linejoin="round"/>
<path d="M374.20 100.78L377.32 95.19L371.08 95.19Z" fill="#0000ff"/>
<path d="M411.50 114.68L414.62 109.09L408.38 109.09Z" fill="#0000ff"/>
<path d="M449.90 168.58L453.02 162.99L446.78 162.99Z" fill="#0000ff"/>
<path d="M489.40 152.98L492.52 147.39L486.28 147.39Z" fill="#0000ff"/>
<path d="M526.70 169.38L529.82 163.79L523.58 163.79Z" fill="#0000ff"/>
<path d="M564.80 105.78L567.92 100.19L561.68 100.19Z" fill="#0000ff"/>
<path d="M602.40 121.68L605.52 116.09L599.28 116.09Z" fill="#0000ff"/>
<path d="M641.30 142.38L644.42 136.79L638.18 136.79Z" fill="#0000ff"/>
<path d="M374.20 99.60 C375.17 99.40 378.17 99.13 380.00 98.40 C381.83 97.67 383.25 96.82 385.20 95.20 C387.15 93.58 389.52 90.85 391.70 88.70 C393.88 86.55 396.50 83.72 398.30 82.30 C400.10 80.88 401.30 80.33 402.50 80.20 C403.70 80.07 404.67 80.40 405.50 81.50 C406.33 82.60 406.83 83.88 407.50 86.80 C408.17 89.72 408.83 94.57 409.50 99.00 C410.17 103.43 410.87 108.90 411.50 113.40 C412.13 117.90 412.67 121.90 413.30 126.00 C413.93 130.10 414.58 134.00 415.30 138.00 C416.02 142.00 416.70 146.33 417.60 150.00 C418.50 153.67 419.57 157.00 420.70 160.00 C421.83 163.00 422.85 165.67 424.40 168.00 C425.95 170.33 428.30 172.78 430.00 174.00 C431.70 175.22 432.90 175.30 434.60 175.30 C436.30 175.30 438.47 174.92 440.20 174.00 C441.93 173.08 443.58 171.40 445.00 169.80 C446.42 168.20 447.20 166.37 448.70 164.40 C450.20 162.43 452.15 160.07 454.00 158.00 C455.85 155.93 458.00 153.53 459.80 152.00 C461.60 150.47 463.15 149.70 464.80 148.80 C466.45 147.90 467.23 147.50 469.70 146.60 C472.17 145.70 476.52 144.35 479.60 143.40 C482.68 142.45 484.92 141.60 488.20 140.90 C491.48 140.20 495.80 139.53 499.30 139.20 C502.80 138.87 506.68 138.88 509.20 138.90 C511.72 138.92 512.75 139.13 514.40 139.30 C516.05 139.47 517.05 139.40 519.10 139.90 C521.15 140.40 524.05 141.27 526.70 142.30 C529.35 143.33 532.07 144.70 535.00 146.10 C537.93 147.50 541.22 149.00 544.30 150.70 C547.38 152.40 550.12 154.10 553.50 156.30 C556.88 158.50 561.47 161.60 564.60 163.90 C567.73 166.20 570.23 168.67 572.30 170.10 C574.37 171.53 575.45 172.00 577.00 172.50 C578.55 173.00 580.18 173.35 581.60 173.10 C583.02 172.85 584.30 172.37 585.50 171.00 C586.70 169.63 587.80 167.07 588.80 164.90 C589.80 162.73 590.65 160.40 591.50 158.00 C592.35 155.60 593.15 153.25 593.90 150.50 C594.65 147.75 595.37 144.42 596.00 141.50 C596.63 138.58 597.15 135.75 597.70 133.00 C598.25 130.25 598.78 128.00 599.30 125.00 C599.82 122.00 600.28 118.45 600.80 115.00 C601.32 111.55 601.78 108.08 602.40 104.30 C603.02 100.52 603.82 95.50 604.50 92.30 C605.18 89.10 605.82 86.73 606.50 85.10 C607.18 83.47 607.98 82.98 608.60 82.50 C609.22 82.02 609.68 82.20 610.20 82.20 C610.72 82.20 610.95 82.02 611.70 82.50 C612.45 82.98 613.65 83.97 614.70 85.10 C615.75 86.23 617.17 88.13 618.00 89.30 C618.83 90.47 618.37 90.15 619.70 92.10 C621.03 94.05 623.93 98.12 626.00 101.00 C628.07 103.88 630.27 106.98 632.10 109.40 C633.93 111.82 635.43 113.62 637.00 115.50 C638.57 117.38 639.67 119.12 641.50 120.70 C643.33 122.28 645.45 123.48 648.00 125.00 C650.55 126.52 653.63 128.42 656.80 129.80 C659.97 131.18 663.50 132.30 667.00 133.30 C670.50 134.30 676.00 135.38 677.80 135.80" fill="none" stroke="#00ffff" stroke-width="1.75" stroke-linejoin="round"/>
<path d="M374.20 96.17L377.19 99.60L374.20 103.03L371.21 99.60Z" fill="#00ffff"/>
<path d="M411.50 109.97L414.49 113.40L411.50 116.83L408.51 113.40Z" fill="#00ffff"/>
<path d="M449.80 160.07L452.79 163.50L449.80 166.93L446.81 163.50Z" fill="#00ffff"/>
<path d="M488.20 137.47L491.19 140.90L488.20 144.33L485.21 140.90Z" fill="#00ffff"/>
<path d="M526.70 138.87L529.69 142.30L526.70 145.73L523.71 142.30Z" fill="#00ffff"/>
<path d="M564.60 160.47L567.59 163.90L564.60 167.33L561.61 163.90Z" fill="#00ffff"/>
<path d="M602.40 100.87L605.39 104.30L602.40 107.73L599.41 104.30Z" fill="#00ffff"/>
<path d="M641.50 117.27L644.49 120.70L641.50 124.13L638.51 120.70Z" fill="#00ffff"/>
</g>
<path d="M269.2 98.9L271.6 98.0L272.2 100.6L269.8 101.5Z" fill="#fff"/>
<path d="M28.60 37.40V208.60H332.60" fill="none" stroke="#000" stroke-width="1.4"/>
<path d="M28.60 37.40H31.60" stroke="#000" stroke-width="1.2"/>
<text x="25.10" y="41.00" text-anchor="end" class="tk">45</text>
<path d="M28.60 57.55H31.60" stroke="#000" stroke-width="1.2"/>
<text x="25.10" y="61.15" text-anchor="end" class="tk">40</text>
<path d="M28.60 77.70H31.60" stroke="#000" stroke-width="1.2"/>
<text x="25.10" y="81.30" text-anchor="end" class="tk">35</text>
<path d="M28.60 97.85H31.60" stroke="#000" stroke-width="1.2"/>
<text x="25.10" y="101.45" text-anchor="end" class="tk">30</text>
<path d="M28.60 118.00H31.60" stroke="#000" stroke-width="1.2"/>
<text x="25.10" y="121.60" text-anchor="end" class="tk">25</text>
<path d="M28.60 138.15H31.60" stroke="#000" stroke-width="1.2"/>
<text x="25.10" y="141.75" text-anchor="end" class="tk">20</text>
<path d="M28.60 158.30H31.60" stroke="#000" stroke-width="1.2"/>
<text x="25.10" y="161.90" text-anchor="end" class="tk">15</text>
<path d="M28.60 178.45H31.60" stroke="#000" stroke-width="1.2"/>
<text x="25.10" y="182.05" text-anchor="end" class="tk">10</text>
<path d="M28.60 198.60H31.60" stroke="#000" stroke-width="1.2"/>
<text x="25.10" y="202.20" text-anchor="end" class="tk">5</text>
<path d="M28.60 208.60V205.60" stroke="#000" stroke-width="1.2"/>
<text x="28.60" y="220.20" text-anchor="middle" class="tk">0</text>
<path d="M66.60 208.60V205.60" stroke="#000" stroke-width="1.2"/>
<text x="66.60" y="220.20" text-anchor="middle" class="tk">100</text>
<path d="M104.60 208.60V205.60" stroke="#000" stroke-width="1.2"/>
<text x="104.60" y="220.20" text-anchor="middle" class="tk">200</text>
<path d="M142.60 208.60V205.60" stroke="#000" stroke-width="1.2"/>
<text x="142.60" y="220.20" text-anchor="middle" class="tk">300</text>
<path d="M180.60 208.60V205.60" stroke="#000" stroke-width="1.2"/>
<text x="180.60" y="220.20" text-anchor="middle" class="tk">400</text>
<path d="M218.60 208.60V205.60" stroke="#000" stroke-width="1.2"/>
<text x="218.60" y="220.20" text-anchor="middle" class="tk">500</text>
<path d="M256.60 208.60V205.60" stroke="#000" stroke-width="1.2"/>
<text x="256.60" y="220.20" text-anchor="middle" class="tk">600</text>
<path d="M294.60 208.60V205.60" stroke="#000" stroke-width="1.2"/>
<text x="294.60" y="220.20" text-anchor="middle" class="tk">700</text>
<path d="M332.60 208.60V205.60" stroke="#000" stroke-width="1.2"/>
<text x="332.60" y="220.20" text-anchor="middle" class="tk">800</text>
<path d="M374.10 37.60V208.60H677.60" fill="none" stroke="#000" stroke-width="1.4"/>
<path d="M374.10 37.60H377.10" stroke="#000" stroke-width="1.2"/>
<text x="370.60" y="41.20" text-anchor="end" class="tk">30</text>
<path d="M374.10 80.35H377.10" stroke="#000" stroke-width="1.2"/>
<text x="370.60" y="83.95" text-anchor="end" class="tk">25</text>
<path d="M374.10 123.10H377.10" stroke="#000" stroke-width="1.2"/>
<text x="370.60" y="126.70" text-anchor="end" class="tk">20</text>
<path d="M374.10 165.85H377.10" stroke="#000" stroke-width="1.2"/>
<text x="370.60" y="169.45" text-anchor="end" class="tk">15</text>
<path d="M374.10 208.60H377.10" stroke="#000" stroke-width="1.2"/>
<text x="370.60" y="212.20" text-anchor="end" class="tk">10</text>
<path d="M374.10 208.60V205.60" stroke="#000" stroke-width="1.2"/>
<text x="374.10" y="220.20" text-anchor="middle" class="tk">0</text>
<path d="M412.04 208.60V205.60" stroke="#000" stroke-width="1.2"/>
<text x="412.04" y="220.20" text-anchor="middle" class="tk">100</text>
<path d="M449.98 208.60V205.60" stroke="#000" stroke-width="1.2"/>
<text x="449.98" y="220.20" text-anchor="middle" class="tk">200</text>
<path d="M487.92 208.60V205.60" stroke="#000" stroke-width="1.2"/>
<text x="487.92" y="220.20" text-anchor="middle" class="tk">300</text>
<path d="M525.86 208.60V205.60" stroke="#000" stroke-width="1.2"/>
<text x="525.86" y="220.20" text-anchor="middle" class="tk">400</text>
<path d="M563.80 208.60V205.60" stroke="#000" stroke-width="1.2"/>
<text x="563.80" y="220.20" text-anchor="middle" class="tk">500</text>
<path d="M601.74 208.60V205.60" stroke="#000" stroke-width="1.2"/>
<text x="601.74" y="220.20" text-anchor="middle" class="tk">600</text>
<path d="M639.68 208.60V205.60" stroke="#000" stroke-width="1.2"/>
<text x="639.68" y="220.20" text-anchor="middle" class="tk">700</text>
<path d="M677.62 208.60V205.60" stroke="#000" stroke-width="1.2"/>
<text x="677.62" y="220.20" text-anchor="middle" class="tk">800</text>
<path d="M26.00 3.35H50.60" stroke="#000000" stroke-width="1.8"/>
<rect x="35.80" y="0.75" width="5.20" height="5.20" fill="#000000"/>
<text x="52.30" y="6.75" class="lg">100m away from the cut eye</text>
<path d="M175.40 3.35H200.00" stroke="#ff0000" stroke-width="1.8"/>
<circle cx="187.80" cy="3.35" r="2.60" fill="#ff0000"/>
<text x="201.70" y="6.75" class="lg">200m away from the cut eye</text>
<path d="M26.00 16.00H50.60" stroke="#00ff00" stroke-width="1.8"/>
<path d="M38.40 12.62L41.52 18.21L35.28 18.21Z" fill="#00ff00"/>
<text x="52.30" y="19.40" class="lg">300m away from the cut eye</text>
<path d="M175.40 16.00H200.00" stroke="#0000ff" stroke-width="1.8"/>
<path d="M187.80 19.38L190.92 13.79L184.68 13.79Z" fill="#0000ff"/>
<text x="201.70" y="19.40" class="lg">400m away from the cut eye</text>
<path d="M26.00 28.70H50.60" stroke="#00ffff" stroke-width="1.8"/>
<path d="M38.40 25.27L41.39 28.70L38.40 32.13L35.41 28.70Z" fill="#00ffff"/>
<text x="52.30" y="32.10" class="lg">500m away from the cut eye</text>
<path d="M371.30 3.40H395.90" stroke="#000000" stroke-width="1.8"/>
<rect x="381.10" y="0.80" width="5.20" height="5.20" fill="#000000"/>
<text x="397.60" y="6.80" class="lg">100m away from the cut eye</text>
<path d="M520.40 3.40H545.00" stroke="#ff0000" stroke-width="1.8"/>
<circle cx="532.80" cy="3.40" r="2.60" fill="#ff0000"/>
<text x="546.70" y="6.80" class="lg">200m away from the cut eye</text>
<path d="M371.30 16.20H395.90" stroke="#00ff00" stroke-width="1.8"/>
<path d="M383.70 12.82L386.82 18.41L380.58 18.41Z" fill="#00ff00"/>
<text x="397.60" y="19.60" class="lg">300m away from the cut eye</text>
<path d="M520.40 16.20H545.00" stroke="#0000ff" stroke-width="1.8"/>
<path d="M532.80 19.58L535.92 13.99L529.68 13.99Z" fill="#0000ff"/>
<text x="546.70" y="19.60" class="lg">400m away from the cut eye</text>
<path d="M371.30 28.90H395.90" stroke="#00ffff" stroke-width="1.8"/>
<path d="M383.70 25.47L386.69 28.90L383.70 32.33L380.71 28.90Z" fill="#00ffff"/>
<text x="397.60" y="32.30" class="lg">500m away from the cut eye</text>
<text x="180.5" y="239.6" text-anchor="middle" class="at">Model length (m)</text>
<text x="526" y="239.6" text-anchor="middle" class="at">Model length (m)</text>
<text transform="translate(11.3 116.4) rotate(-90)" text-anchor="middle" class="at">Vertical stress (MPa)</text>
<text transform="translate(356.3 115.8) rotate(-90)" text-anchor="middle" class="at">Vertical stress (MPa)</text>
<text x="3.9" y="232.6" class="pl">(a)</text>
<text x="347.2" y="232.6" class="pl">(b)</text>
</svg>
</body></html>
